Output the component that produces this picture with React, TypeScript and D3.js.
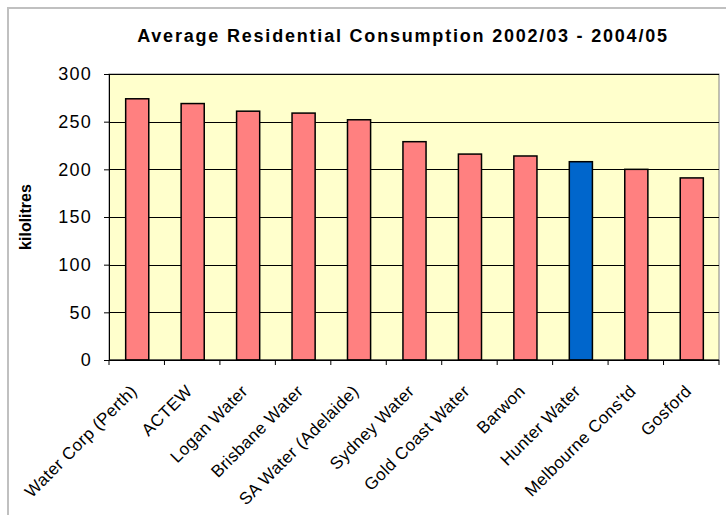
import { useEffect, useRef } from 'react'
import * as d3 from 'd3'

const utilities = [
  'Water Corp (Perth)',
  'ACTEW',
  'Logan Water',
  'Brisbane Water',
  'SA Water (Adelaide)',
  'Sydney Water',
  'Gold Coast Water',
  'Barwon',
  'Hunter Water',
  "Melbourne Cons'td",
  'Gosford',
]
const consumption = [274, 269, 261, 259, 252, 229, 216, 214, 208, 200, 191]
const highlighted = ['Hunter Water']
const yTicks = [0, 50, 100, 150, 200, 250, 300]

const W = 726
const H = 515

export default function App() {
  const svgRef = useRef<SVGSVGElement>(null)

  useEffect(() => {
    if (!svgRef.current) return
    const svg = d3.select(svgRef.current)
    svg.selectAll('*').remove()

    const margin = { top: 74, right: 7, bottom: 155, left: 109 }
    const width = W - margin.left - margin.right
    const height = H - margin.top - margin.bottom
    const font = 'Arial, "Liberation Sans", sans-serif'

    // outer chart frame (only left/top edges are visible)
    svg.append('rect')
      .attr('x', 8).attr('y', 8)
      .attr('width', W + 20).attr('height', H + 20)
      .attr('fill', '#fff')
      .attr('stroke', '#c0c0c0')
      .attr('stroke-width', 2)

    svg.append('text')
      .attr('x', 403).attr('y', 42)
      .attr('text-anchor', 'middle')
      .attr('font-family', font)
      .attr('font-weight', 'bold')
      .attr('font-size', 18)
      .attr('letter-spacing', 1.8)
      .text('Average Residential Consumption 2002/03 - 2004/05')

    const g = svg.append('g').attr('transform', `translate(${margin.left},${margin.top})`)

    const xb = d3.scaleBand<string>().domain(utilities).range([0, width])
    const y = d3.scaleLinear().domain([0, 300]).range([height, 0])

    g.append('rect')
      .attr('width', width).attr('height', height)
      .attr('fill', '#FFFFCC')
      .attr('stroke', '#808080')

    yTicks.forEach(t => {
      g.append('line')
        .attr('x1', 0).attr('x2', width)
        .attr('y1', Math.round(y(t)) + 0.5).attr('y2', Math.round(y(t)) + 0.5)
        .attr('stroke', '#000')
    })

    // gap width ~140% like the original spreadsheet chart
    const bw = xb.bandwidth() / 2.4
    g.selectAll('rect.bar')
      .data(utilities)
      .join('rect')
      .attr('class', 'bar')
      .attr('x', d => (xb(d) ?? 0) + (xb.bandwidth() - bw) / 2 + 0.5)
      .attr('y', (_d, i) => y(consumption[i]))
      .attr('width', bw)
      .attr('height', (_d, i) => height - y(consumption[i]))
      .attr('fill', d => highlighted.includes(d) ? '#0066CC' : '#FF8080')
      .attr('stroke', '#000')
      .attr('stroke-width', 1.5)

    // y axis
    const yAxis = g.append('g')
      .call(d3.axisLeft(y).tickValues(yTicks).tickSize(5).tickPadding(12))
    yAxis.selectAll('text')
      .attr('font-family', font)
      .attr('font-size', 18)
      .attr('letter-spacing', 1.2)
      .attr('fill', '#000')

    // x axis: ticks at category boundaries
    const xAxis = g.append('g').attr('transform', `translate(0,${height})`)
    xAxis.append('line').attr('x1', 0).attr('x2', width).attr('stroke', '#000')
    const bounds = utilities.map(d => xb(d) ?? 0).concat([width])
    bounds.forEach(b => {
      xAxis.append('line')
        .attr('x1', b).attr('x2', b).attr('y1', 0).attr('y2', 5)
        .attr('stroke', '#000')
    })
    xAxis.selectAll('text.cat')
      .data(utilities)
      .join('text')
      .attr('class', 'cat')
      .attr('transform', d => `translate(${(xb(d) ?? 0) + xb.bandwidth() / 2 - 3},28) rotate(-45)`)
      .attr('dy', '0.35em')
      .attr('text-anchor', 'end')
      .attr('font-family', font)
      .attr('font-size', 17)
      .attr('letter-spacing', 0.4)
      .text(d => d)

    svg.append('text')
      .attr('transform', `translate(31,${margin.top + height / 2}) rotate(-90)`)
      .attr('text-anchor', 'middle')
      .attr('font-family', font)
      .attr('font-weight', 'bold')
      .attr('font-size', 16)
      .text('kilolitres')
  }, [])

  return (
    <svg
      ref={svgRef}
      width={W}
      height={H}
      style={{ position: 'absolute', left: 0, top: 0, background: '#fff' }}
    />
  )
}
